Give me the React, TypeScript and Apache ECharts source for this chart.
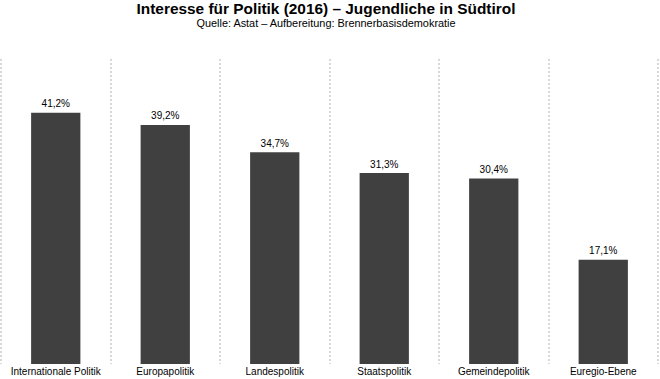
import React, { useEffect, useRef } from "react";
import * as echarts from "echarts";

const categories = [
  "Internationale Politik",
  "Europapolitik",
  "Landespolitik",
  "Staatspolitik",
  "Gemeindepolitik",
  "Euregio-Ebene",
];
const values = [41.2, 39.2, 34.7, 31.3, 30.4, 17.1];

const TITLE = "Interesse für Politik (2016) – Jugendliche in Südtirol";
const SUBTITLE = "Quelle: Astat – Aufbereitung: Brennerbasisdemokratie";

export default function App() {
  const ref = useRef<HTMLDivElement>(null);
  useEffect(() => {
    if (!ref.current) return;
    const chart = echarts.init(ref.current, null, { renderer: "svg" });
    chart.setOption({
      animation: false,
      backgroundColor: "#ffffff",
      title: {
        text: TITLE,
        subtext: SUBTITLE,
        left: 321,
        textAlign: "center",
        top: -4,
        itemGap: 1,
        textStyle: {
          fontFamily: "Liberation Sans",
          fontSize: 15.4,
          fontWeight: "bold",
          color: "#000",
        },
        subtextStyle: {
          fontFamily: "Liberation Sans",
          fontSize: 10.9,
          color: "#000",
        },
      },
      grid: { left: 1, right: 2, top: 59, bottom: 15, containLabel: false },
      xAxis: {
        type: "category",
        data: categories,
        axisLine: { show: false },
        axisTick: { show: false },
        axisLabel: {
          interval: 0,
          margin: 2,
          fontFamily: "Liberation Sans",
          fontSize: 10,
          color: "#000",
        },
        splitLine: {
          show: true,
          interval: 0,
          lineStyle: { type: [2, 2], color: "#cccccc", width: 1.5 },
        },
      },
      yAxis: {
        type: "value",
        min: 0,
        max: 50,
        show: false,
        splitLine: { show: false },
      },
      series: [
        {
          type: "bar",
          data: values,
          barWidth: "45%",
          itemStyle: { color: "#404040" },
          label: {
            show: true,
            position: "top",
            distance: 4,
            fontFamily: "Liberation Sans",
            fontSize: 10,
            color: "#000",
            formatter: (p: any) => p.value.toFixed(1).replace(".", ",") + "%",
          },
        },
      ],
    });
    return () => chart.dispose();
  }, []);
  return <div ref={ref} style={{ width: 660, height: 379, position: "absolute", left: 0, top: 0 }} />;
}
